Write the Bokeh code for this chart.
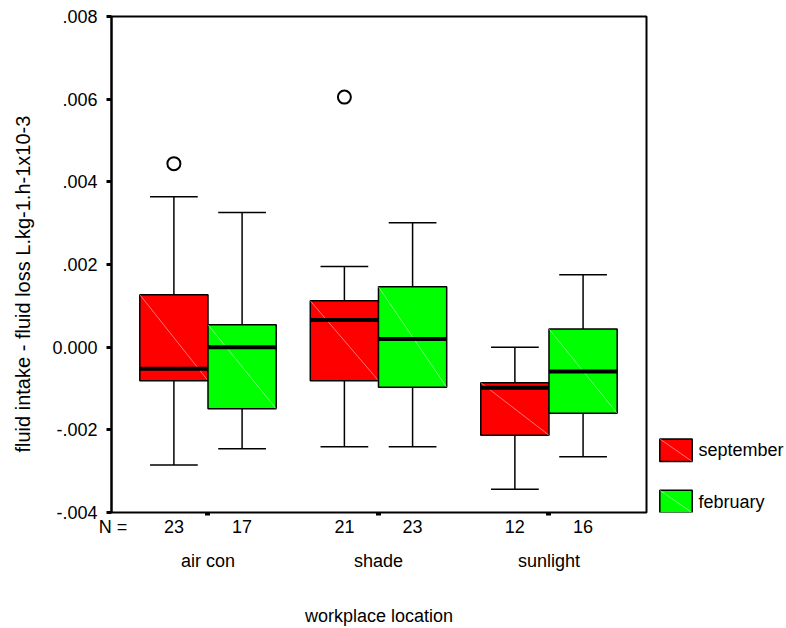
from bokeh.plotting import figure
from bokeh.layouts import row
from bokeh.models import (Range1d, LinearAxis, FixedTicker, ColumnDataSource, Title)
from bokeh.core.properties import value
from bokeh.embed import file_html
from bokeh.resources import INLINE

# ---------------- data ----------------
groups = ["air con", "shade", "sunlight"]
months = ["september", "february"]
month_colors = ["#FF0000", "#00FF00"]

sep_low = [-0.00285, -0.00241, -0.00344]
sep_q1 = [-0.00081, -0.00081, -0.00213]
sep_median = [-0.00052, 0.00066, -0.00098]
sep_q3 = [0.00127, 0.00112, -0.00086]
sep_high = [0.00364, 0.00195, 0.00000]
sep_n = [23, 21, 12]

feb_low = [-0.00246, -0.00241, -0.00265]
feb_q1 = [-0.00149, -0.00097, -0.00160]
feb_median = [0.00000, 0.00020, -0.00059]
feb_q3 = [0.00054, 0.00146, 0.00044]
feb_high = [0.00326, 0.00301, 0.00175]
feb_n = [17, 23, 16]

outlier_group = ["air con", "shade"]
outlier_month = ["september", "september"]
outlier_value = [0.00444, 0.00605]

y_ticks = [-0.004, -0.002, 0.0, 0.002, 0.004, 0.006, 0.008]
y_tick_labels = ["-.004", "-.002", "0.000", ".002", ".004", ".006", ".008"]

y_title = "fluid intake - fluid loss L.kg-1.h-1x10-3"
x_title = "workplace location"
n_prefix = "N ="

# ---------------- layout / style ----------------
FONT = "Liberation Sans"
FS = "18px"
X_START, X_END = 0.434, 3.572
Y_START, Y_END = -0.004, 0.008
BOX_W = 0.4
CAP_W = 0.28
OFFSETS = [-BOX_W / 2, BOX_W / 2]
FRAME_TOP, FRAME_W, FRAME_H = 16, 535, 496
PX_PER_X = FRAME_W / (X_END - X_START)
MAIN_W, LEG_W, H = 655, 131, 628

p = figure(width=MAIN_W, height=H, frame_width=FRAME_W, frame_height=FRAME_H,
           x_range=Range1d(X_START, X_END), y_range=Range1d(Y_START, Y_END),
           output_backend="svg", toolbar_location=None, x_axis_location=None,
           min_border_left=111, min_border_right=MAIN_W - 111 - FRAME_W,
           min_border_top=FRAME_TOP, min_border_bottom=H - FRAME_TOP - FRAME_H)
p.grid.visible = False
p.outline_line_color = "black"
p.outline_line_width = 2
p.outline_line_alpha = 1.0
p.background_fill_color = "white"
p.border_fill_color = "white"

stats = {
    "september": (sep_low, sep_q1, sep_median, sep_q3, sep_high, sep_n),
    "february": (feb_low, feb_q1, feb_median, feb_q3, feb_high, feb_n),
}

all_centers = []
all_n = []
for mi, month in enumerate(months):
    low, q1, med, q3, high, n = stats[month]
    xc = [gi + 1 + OFFSETS[mi] for gi in range(len(groups))]
    all_centers += xc
    all_n += n
    src = ColumnDataSource(dict(
        x=xc, low=low, q1=q1, med=med, q3=q3, high=high,
        left=[x - BOX_W / 2 for x in xc], right=[x + BOX_W / 2 for x in xc],
        cl=[x - CAP_W / 2 for x in xc], cr=[x + CAP_W / 2 for x in xc],
    ))
    # whiskers
    p.segment(x0="x", y0="high", x1="x", y1="q3", source=src,
              line_color="black", line_width=1.5)
    p.segment(x0="x", y0="low", x1="x", y1="q1", source=src,
              line_color="black", line_width=1.5)
    p.segment(x0="cl", y0="high", x1="cr", y1="high", source=src,
              line_color="black", line_width=1.5)
    p.segment(x0="cl", y0="low", x1="cr", y1="low", source=src,
              line_color="black", line_width=1.5)
    # boxes
    p.vbar(x="x", width=BOX_W, top="q3", bottom="q1", source=src,
           fill_color=month_colors[mi], line_color="black", line_width=1.5)
    # faint diagonal (SPSS artefact)
    p.segment(x0="left", y0="q3", x1="right", y1="q1", source=src,
              line_color="white", line_alpha=0.45, line_width=1)
    # median
    p.segment(x0="left", y0="med", x1="right", y1="med", source=src,
              line_color="black", line_width=4)

# outliers
ox = [groups.index(g) + 1 + OFFSETS[months.index(m)]
      for g, m in zip(outlier_group, outlier_month)]
p.scatter(x=ox, y=outlier_value, marker="circle", size=13,
          fill_color=None, line_color="black", line_width=2)


def blank_axis(spacer):
    """Tick-less axis used only as a spacer in a side panel."""
    ax = LinearAxis(ticker=FixedTicker(ticks=[]))
    ax.axis_line_color = None
    ax.major_tick_line_color = None
    ax.minor_tick_line_color = None
    ax.major_tick_in = 0
    ax.major_tick_out = 0
    ax.minor_tick_in = 0
    ax.minor_tick_out = 0
    ax.major_label_standoff = 0
    ax.axis_label = " "
    ax.axis_label_text_font_size = "1px"
    ax.axis_label_standoff = spacer
    return ax


# ---------------- y axis ----------------
ya = p.yaxis[0]
ya.ticker = FixedTicker(ticks=y_ticks)
ya.major_label_overrides = {t: l for t, l in zip(y_ticks, y_tick_labels)}
ya.minor_tick_line_color = None
ya.major_tick_in = 0
ya.major_tick_out = 5
ya.major_tick_line_width = 3
ya.axis_line_width = 2
ya.major_label_standoff = 9
ya.major_label_text_font = FONT
ya.major_label_text_font_size = FS
ya.major_label_text_color = "black"

p.add_layout(blank_axis(12), "left")
p.add_layout(Title(text=y_title, align="left", offset=60,
                   vertical_align="bottom", standoff=0,
                   text_font=FONT, text_font_size="20px",
                   text_font_style="normal", text_color="black"), "left")

# ---------------- x axes ----------------
n_ticks = [X_START + 1.5 / PX_PER_X] + all_centers
n_labels = [n_prefix] + [str(v) for v in all_n]
ax_n = LinearAxis(ticker=FixedTicker(ticks=n_ticks, minor_ticks=[1, 2, 3]))
ax_n.major_label_overrides = {t: l for t, l in zip(n_ticks, n_labels)}
ax_n.axis_line_color = None
ax_n.major_tick_line_color = None
ax_n.major_tick_in = 0
ax_n.major_tick_out = 0
ax_n.minor_tick_in = 0
ax_n.minor_tick_out = 3
ax_n.minor_tick_line_width = 5
ax_n.minor_tick_line_color = "black"
ax_n.major_label_standoff = 1
ax_n.major_label_text_font = FONT
ax_n.major_label_text_font_size = FS
ax_n.major_label_text_color = "black"
p.add_layout(ax_n, "below")

g_ticks = [i + 1 for i in range(len(groups))]
ax_g = LinearAxis(ticker=FixedTicker(ticks=g_ticks))
ax_g.major_label_overrides = {t: l for t, l in zip(g_ticks, groups)}
ax_g.axis_line_color = None
ax_g.major_tick_line_color = None
ax_g.minor_tick_line_color = None
ax_g.major_tick_in = 0
ax_g.major_tick_out = 0
ax_g.major_label_standoff = 11
ax_g.major_label_text_font = FONT
ax_g.major_label_text_font_size = FS
ax_g.major_label_text_color = "black"
ax_g.axis_label = x_title
ax_g.axis_label_standoff = 32
ax_g.axis_label_text_font = FONT
ax_g.axis_label_text_font_size = FS
ax_g.axis_label_text_font_style = "normal"
ax_g.axis_label_text_color = "black"
p.add_layout(ax_g, "below")

# ---------------- legend (separate narrow canvas to the right) ----------------
# The row aligns this canvas' frame with the main frame, so its y range is
# expressed in page pixels spanning the same rows as the main frame.
LEG_KEY_X0, LEG_KEY_X1, LEG_TEXT_X = 4.3, 36.7, 43
LEG_ROW_Y = [449.7, 501.0]
LEG_KEY_H = 22.5

lg = figure(width=LEG_W, height=H, x_range=Range1d(0, LEG_W),
            y_range=Range1d(FRAME_TOP + FRAME_H, FRAME_TOP),
            output_backend="svg", toolbar_location=None,
            x_axis_location=None, y_axis_location=None, min_border=0)
lg.grid.visible = False
lg.outline_line_color = None
lg.background_fill_color = "white"
lg.border_fill_color = "white"
leg_src = ColumnDataSource(dict(
    label=months, color=month_colors,
    x0=[LEG_KEY_X0] * len(months), x1=[LEG_KEY_X1] * len(months),
    top=[y - LEG_KEY_H / 2 for y in LEG_ROW_Y],
    bottom=[y + LEG_KEY_H / 2 for y in LEG_ROW_Y],
    tx=[LEG_TEXT_X] * len(months), ty=LEG_ROW_Y,
))
lg.quad(left="x0", right="x1", top="top", bottom="bottom", source=leg_src,
        fill_color="color", line_color="black", line_width=1.5)
lg.segment(x0="x0", y0="top", x1="x1", y1="bottom", source=leg_src,
           line_color="white", line_alpha=0.45, line_width=1)
lg.text(x="tx", y="ty", text="label", source=leg_src,
        text_align="left", text_baseline="middle",
        text_font=value(FONT), text_font_size=FS, text_color="black")

layout = row(p, lg, spacing=0)
open("out.html", "w").write(file_html(layout, INLINE))
